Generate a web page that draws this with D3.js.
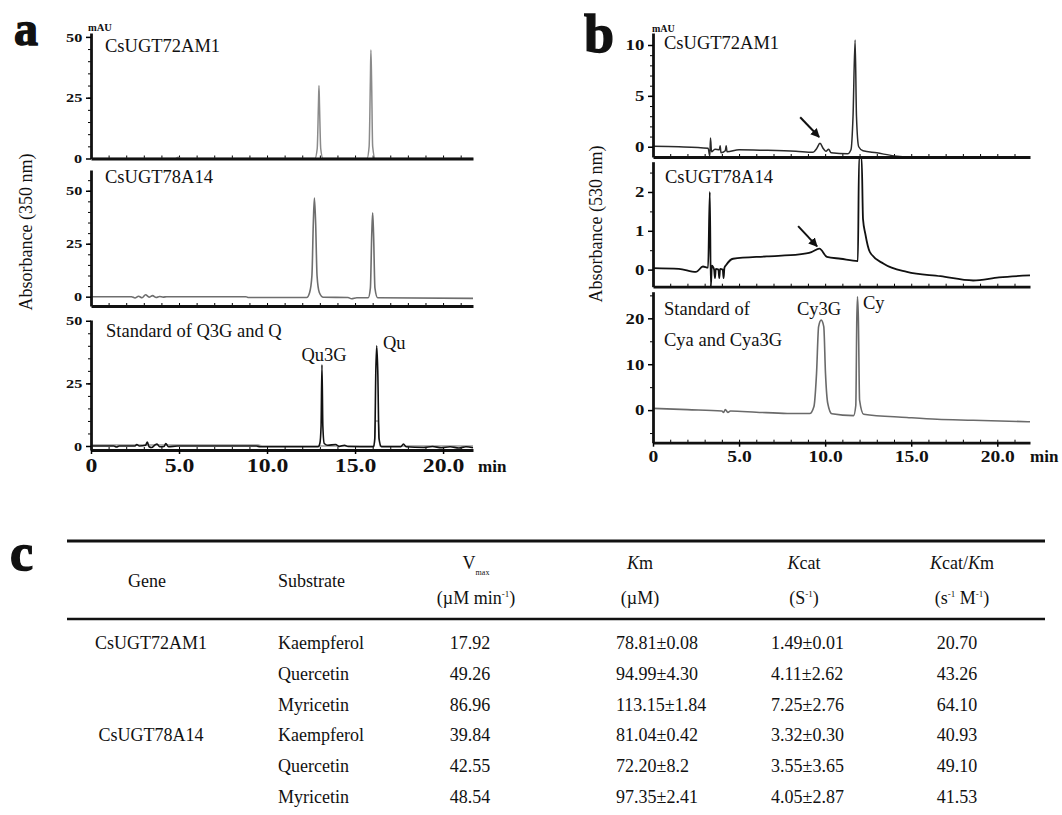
<!DOCTYPE html>
<html>
<head>
<meta charset="utf-8">
<script src="https://cdn.jsdelivr.net/npm/d3@7"></script>
<style>
body{margin:0;background:#fff}
svg text{font-family:"Liberation Serif","Times New Roman",serif;fill:#111}
</style>
</head>
<body>
<svg id="fig" width="1062" height="815"></svg>
<script>
// ---- data: [retention time (min), absorbance (mAU)] ----
var timeTicks = [0, 5, 10, 15, 20];

// panel a, 350 nm
var a1 = [[0,0],[4.8,0],[4.95,0.5],[5.1,0],[12.72,0],[12.85,4],[12.92,22],[12.95,30],[12.98,22],[13.05,4],[13.18,0],
          [15.68,0],[15.8,5],[15.87,32],[15.9,44.6],[15.94,32],[16.0,5],[16.14,0],[21.7,0]];
var a2 = [[0,0],[2.3,0],[2.5,-0.6],[2.7,0.2],[2.9,-0.5],[3.1,0.9],[3.3,-0.2],[3.5,0.5],[3.7,-0.4],[3.9,0.1],[4.1,-0.2],[4.3,0],
          [8.8,0],[8.95,-0.4],[12.25,-0.4],[12.42,2],[12.55,10],[12.63,35],[12.69,46.5],[12.76,35],[12.84,10],[12.97,2],[13.2,-0.3],
          [14.6,-0.4],[14.8,-1],[15.1,-0.5],[15.75,-0.5],[15.87,4],[15.95,30],[16.0,39.6],[16.05,30],[16.13,4],[16.28,-0.5],[21.7,-0.8]];
var a3 = [[0,0],[1.3,0],[1.45,-0.4],[1.6,0],[2.5,0],[2.6,0.6],[2.75,0],[3.1,0.3],[3.2,1.6],[3.3,-0.3],[3.45,-0.6],[3.6,0.2],
          [3.75,0.8],[3.9,-0.3],[4.15,-0.2],[4.25,1],[4.4,-0.3],[4.9,0],[9.4,0],[9.6,-0.3],[12.9,-0.3],[13.0,1],[13.07,8],
          [13.12,32.4],[13.17,8],[13.25,1],[13.45,0.3],[13.9,0.6],[14.1,-0.2],[14.4,0.3],[14.6,-0.2],[16.05,-0.3],[16.12,3],
          [16.18,30],[16.23,40],[16.29,30],[16.36,3],[16.5,-0.3],[17.6,-0.3],[17.75,0.8],[17.9,-0.3],[18.9,-0.6],[19.4,-0.2],
          [19.9,-0.7],[20.4,-0.3],[20.9,-0.8],[21.3,-0.3],[21.7,-0.7]];
var a3ref = [[0,0.4],[9.5,0.4],[9.7,0],[16.1,0],[16.16,10],[16.32,10],[16.4,0],[21.7,0]];

// panel b, 530 nm
var b1 = [[0,0.05],[1.5,0],[3.2,-0.15],[3.3,-0.9],[3.34,0.85],[3.4,-0.5],[3.6,-0.25],[3.85,-0.3],[3.9,0.1],[3.95,-0.6],
          [4.2,-0.4],[4.25,0.1],[4.3,-0.5],[5,-0.3],[6.5,-0.35],[8.3,-0.45],[9.3,-0.55],[9.5,-0.2],[9.7,0.33],[9.9,-0.2],
          [10.05,-0.45],[10.2,-0.25],[10.35,-0.6],[11.3,-0.7],[11.5,-0.3],[11.62,3],[11.74,10.5],[11.82,3],[11.95,0],
          [12.2,-0.4],[13,-0.6],[14,-0.9],[15,-1.0],[21.9,-1.0]];
var b2 = [[0,0.04],[1.5,0.02],[2.5,-0.06],[2.9,0.08],[3.2,0.05],[3.3,2.0],[3.36,-0.44],[3.42,0.1],[3.55,0.0],[3.6,-0.22],
          [3.65,0.02],[3.8,0.0],[3.85,-0.22],[3.9,0.02],[4.05,0.0],[4.1,-0.22],[4.15,0.05],[4.25,0.12],[4.65,0.28],[6.6,0.34],
          [8.5,0.39],[9.2,0.45],[9.67,0.54],[10.1,0.33],[10.9,0.28],[11.9,0.22],[11.97,2.87],[12.12,2.87],[12.2,1.3],
          [12.33,0.93],[12.6,0.45],[13.4,0.15],[14.75,-0.06],[16.7,-0.17],[18.6,-0.28],[20.1,-0.2],[21.9,-0.15]];
var b3 = [[0,0.37],[2,0.1],[4.0,-0.2],[4.1,-0.5],[4.2,0.1],[4.35,-0.5],[4.5,-0.2],[6,-0.45],[7.8,-0.73],[9.1,-0.75],
          [9.35,0.8],[9.5,8],[9.62,18.2],[9.77,19.6],[9.92,18.2],[10.02,8],[10.15,1.5],[10.39,-0.8],[11.65,-1.2],
          [11.78,1],[11.84,20],[11.88,24.7],[11.93,20],[12.0,2.2],[12.24,-0.9],[14.75,-1.6],[16.5,-2],[18.6,-2.2],[21.9,-2.55]];
var arrowB1 = [[8.55,2.9],[9.65,0.95]];
var arrowB2 = [[8.43,1.12],[9.53,0.6]];

// panel c, kinetic table
var genes = ["CsUGT72AM1","","","CsUGT78A14","",""];
var substrates = ["Kaempferol","Quercetin","Myricetin","Kaempferol","Quercetin","Myricetin"];
var vmax = ["17.92","49.26","86.96","39.84","42.55","48.54"];
var km = ["78.81±0.08","94.99±4.30","113.15±1.84","81.04±0.42","72.20±8.2","97.35±2.41"];
var kcat = ["1.49±0.01","4.11±2.62","7.25±2.76","3.32±0.30","3.55±3.65","4.05±2.87"];
var kcatKm = ["20.70","43.26","64.10","40.93","49.10","41.53"];

var svg = d3.select("#fig");

var defs = svg.append("defs");
defs.append("marker").attr("id","arr").attr("viewBox","0 0 10 10")
    .attr("refX",9).attr("refY",5).attr("markerWidth",4.5).attr("markerHeight",4.5)
    .attr("orient","auto").append("path").attr("d","M0,0L10,5L0,10z").attr("fill","#111");

function chrom(px, tmax, sub, big){
    var x = d3.scaleLinear().domain([0, tmax]).range(px);
    sub.forEach(function(s, i){
	var y = d3.scaleLinear().domain([s.lo, s.hi]).range([s.y0, s.y1]);
	var g = svg.append("g");
	var last = i == sub.length-1;

	// minor ticks
	g.append("g").attr("transform","translate("+px[0]+",0)")
	    .call(d3.axisLeft(y).tickValues(s.minor).tickSize(3).tickFormat(""))
	    .call(function(a){a.select(".domain").remove();});
	g.append("g").attr("transform","translate(0,"+s.y0+")")
	    .call(d3.axisBottom(x).tickValues(d3.range(1, tmax, 1)).tickSize(-3).tickFormat(""))
	    .call(function(a){a.select(".domain").remove();});

	// traces
	s.traces.forEach(function(tr){
	    g.append("path").datum(tr[0])
		.attr("fill","none").attr("stroke",tr[1]).attr("stroke-width",tr[2])
		.attr("stroke-linejoin","round")
		.attr("d", d3.line().x(function(d){return x(d[0]);}).y(function(d){return y(d[1]);})
		      .curve(d3.curveMonotoneX));
	});

	if(s.arrow){
	    g.append("line")
		.attr("x1",x(s.arrow[0][0])).attr("y1",y(s.arrow[0][1]))
		.attr("x2",x(s.arrow[1][0])).attr("y2",y(s.arrow[1][1]))
		.attr("stroke","#111").attr("stroke-width",2).attr("marker-end","url(#arr)");
	}

	// y axis
	var ya = g.append("g").attr("transform","translate("+px[0]+",0)")
	    .call(d3.axisLeft(y).tickValues(s.major).tickSize(5).tickSizeOuter(0).tickPadding(2)
		  .tickFormat(function(d){return d;}));
	ya.select(".domain").attr("stroke","#111").attr("stroke-width",2.8);
	ya.selectAll(".tick line").attr("stroke-width",1.5);
	ya.selectAll("text").attr("font-size",s.fs).attr("font-weight","bold")
	    .attr("font-family","Liberation Serif").attr("fill","#111")
	    .attr("transform","scale(1.25,1)");

	// x axis
	var xa = g.append("g").attr("transform","translate(0,"+s.y0+")")
	    .call(d3.axisBottom(x).tickValues(timeTicks).tickSize(last?4:0).tickSizeOuter(0)
		  .tickFormat(last ? function(d){return d==0?"0":d.toFixed(1);} : ""));
	xa.select(".domain").attr("stroke","#111").attr("stroke-width",2.8);
	xa.selectAll(".tick line").attr("stroke-width",1.5);
	if(last){
	    xa.selectAll("text").attr("dy",null).attr("y",big.off)
		.attr("font-size",big.fs).attr("font-weight","bold")
		.attr("font-family","Liberation Serif").attr("fill","#111")
		.attr("transform","scale("+big.sx+",1)");
	}

	s.labels.forEach(function(l){
	    g.append("text").attr("x",l[1]).attr("y",l[2]).attr("font-size",18.5)
		.attr("text-anchor",l[3]||"start").text(l[0]);
	});
    });
}

chrom([91, 473], 21.7, [
    {y0:158.5, y1:33, lo:0, hi:51.6, major:[0,25,50], minor:d3.range(5,50,5), fs:13,
     traces:[[a1,"#8a8a8a",1.5]], labels:[["CsUGT72AM1",105,52]]},
    {y0:306, y1:170, lo:-4.4, hi:59.8, major:[0,25,50], minor:d3.range(5,60,5), fs:13,
     traces:[[a2,"#6e6e6e",1.6]], labels:[["CsUGT78A14",105,183]]},
    {y0:450, y1:320, lo:-1.6, hi:50.3, major:[0,25,50], minor:d3.range(5,50,5), fs:13,
     traces:[[a3ref,"#9a9a9a",1.4],[a3,"#111",1.6]],
     labels:[["Standard of Q3G and Q",106,337],["Qu3G",324,361,"middle"],["Qu",383,349]]}
], {off:22, fs:19, sx:1.25});

chrom([653, 1030], 21.9, [
    {y0:157, y1:33, lo:-1.01, hi:11.18, major:[0,5,10], minor:d3.range(1,11,1), fs:15,
     traces:[[b1,"#2a2a2a",1.5]], arrow:arrowB1, labels:[["CsUGT72AM1",664,49]]},
    {y0:286.7, y1:161.7, lo:-0.44, hi:2.78, major:[0,1,2], minor:[0.5,1.5,2.5], fs:15,
     traces:[[b2,"#111",1.8]], arrow:arrowB2, labels:[["CsUGT78A14",665,183]]},
    {y0:442.7, y1:291.7, lo:-7.1, hi:25.8, major:[0,10,20], minor:[-5,5,15,25], fs:15,
     traces:[[b3,"#6a6a6a",1.6]],
     labels:[["Standard of",664,315],["Cya and Cya3G",664,346],["Cy3G",819,315,"middle"],["Cy",863,309]]}
], {off:19, fs:17, sx:1.15});

// units and axis titles
svg.append("text").attr("x",478).attr("y",472).attr("font-size",17).attr("font-weight","bold").text("min");
svg.append("text").attr("x",1030).attr("y",462).attr("font-size",17).attr("font-weight","bold").text("min");
svg.append("text").attr("x",88).attr("y",31).attr("font-size",10.5).attr("font-weight","bold").text("mAU");
svg.append("text").attr("x",652).attr("y",32).attr("font-size",10).attr("font-weight","bold").text("mAU");
svg.append("text").attr("transform","translate(32,232) rotate(-90)").attr("text-anchor","middle")
    .attr("font-size",18).text("Absorbance (350 nm)");
svg.append("text").attr("transform","translate(602,224) rotate(-90)").attr("text-anchor","middle")
    .attr("font-size",18).text("Absorbance (530 nm)");

// panel letters
[["a",14,45,48],["b",584,52,54],["c",10,570,52]].forEach(function(p){
    svg.append("text").attr("x",p[1]).attr("y",p[2]).attr("font-size",p[3]).attr("font-weight","bold")
	.attr("stroke","#111").attr("stroke-width",1.4).text(p[0]);
});

// ---- table ----
var tg = svg.append("g").attr("font-size",18);
tg.append("line").attr("x1",67).attr("x2",1045).attr("y1",541).attr("y2",541).attr("stroke","#111").attr("stroke-width",3);
tg.append("line").attr("x1",67).attr("x2",1045).attr("y1",619).attr("y2",619).attr("stroke","#111").attr("stroke-width",2.6);

function head(x, y, parts){
    var t = tg.append("text").attr("x",x).attr("y",y).attr("text-anchor","middle").attr("font-size",18);
    parts.forEach(function(p){
	var s = t.append("tspan").text(p[0]);
	if(p[1]=="i") s.attr("font-style","italic");
	if(p[1]=="sup") s.attr("font-size",9).attr("dy",-7);
	if(p[1]=="sub") s.attr("font-size",8).attr("dy",6);
	if(p[2]) s.attr("dy",p[2]);
    });
}
tg.append("text").attr("x",147).attr("y",587).attr("text-anchor","middle").text("Gene");
tg.append("text").attr("x",278).attr("y",587).text("Substrate");
head(476, 569, [["V"],["max","sub"]]);
head(476, 604, [["(µM min"],["-1","sup"],[")","",7]]);
head(640, 569, [["K","i"],["m"]]);
head(640, 604, [["(µM)"]]);
head(804, 569, [["K","i"],["cat"]]);
head(804, 604, [["(S"],["-1","sup"],[")","",7]]);
head(962, 569, [["K","i"],["cat/"],["K","i"],["m"]]);
head(962, 604, [["(s"],["-1","sup"],[" M","",7],["-1","sup"],[")","",7]]);

var rowY = d3.scaleLinear().domain([0, 5]).range([649, 803]);
var cols = [[genes,151,"middle"],[substrates,278,"start"],[vmax,470,"middle"],
	    [km,616,"start"],[kcat,771,"start"],[kcatKm,957,"middle"]];
cols.forEach(function(c){
    tg.selectAll(null).data(c[0]).enter().append("text")
	.attr("x",c[1]).attr("y",function(d,i){return rowY(i);})
	.attr("text-anchor",c[2]).text(function(d){return d;});
});
</script>
</body>
</html>
